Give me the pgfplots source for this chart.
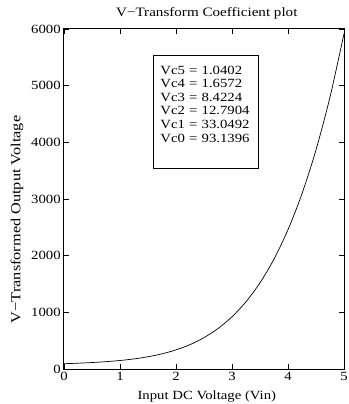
\documentclass[border=0pt]{standalone}
\usepackage{fontspec}
\setmainfont[FakeStretch=1.18]{Liberation Serif}
\usepackage{pgfplots}
\pgfplotsset{compat=1.18}
\begin{document}
\fontsize{12.5}{14}\selectfont
\begin{tikzpicture}
\useasboundingbox (-64pt,-35pt) rectangle (284pt,369pt);
\begin{axis}[
  scale only axis,
  width=280pt, height=340pt,
  xmin=0, xmax=5, ymin=0, ymax=6000,
  xtick={0,1,2,3,4,5}, ytick={0,1000,2000,3000,4000,5000,6000},
  tick align=inside, tickpos=both,
  major tick length=5pt,
  scaled y ticks=false,
  /pgf/number format/assume math mode=true,
  /pgf/number format/1000 sep={},
  axis line style={line width=1pt},
  tick style={line width=0.6pt, black},
  every tick label/.append style={font=\fontsize{12.5}{14}\selectfont},
  xticklabel style={yshift=1pt},
  yticklabel style={xshift=1pt},
  title={V−Transform Coefficient plot},
  every axis title shift=0pt,
  title style={at={(rel axis cs:0.51,1.047)}, anchor=center, yshift=0pt, font=\fontsize{12.8}{14}\selectfont},
  xlabel={Input DC Voltage (Vin)},
  ylabel={V−Transformed Output Voltage},
  xlabel style={at={(rel axis cs:0.51,-0.081)}, anchor=center, font=\fontsize{12.5}{14}\selectfont},
  ylabel style={at={(rel axis cs:-0.168,0.44)}, anchor=center, font=\fontsize{13.8}{15}\selectfont},
]
\addplot[black, line width=0.7pt, smooth] coordinates {
(0,93.14) (0.25,102.34) (0.5,114.05) (0.75,129.45) (1,150.10)
(1.25,178.11) (1.5,216.21) (1.75,267.90) (2,337.58) (2.25,430.64)
(2.5,553.62) (2.75,714.29) (3,921.81) (3.25,1186.83) (3.5,1521.62)
(3.75,1940.20) (4,2458.42) (4.25,3094.16) (4.5,3867.37) (4.75,4800.25)
(5,5917.32)
};
\node[draw=black, line width=0.6pt, fill=white, inner sep=0pt,
  minimum width=105pt, minimum height=113pt]
  at (rel axis cs:0.505,0.757) {};
\node[align=left, inner sep=0pt, text width=91pt,
  font=\fontsize{12.5}{13.6}\selectfont]
  at (rel axis cs:0.507,0.779) {Vc5 = 1.0402\\Vc4 = 1.6572\\Vc3 = 8.4224\\Vc2 = 12.7904\\Vc1 = 33.0492\\Vc0 = 93.1396};
\end{axis}
\end{tikzpicture}
\end{document}
